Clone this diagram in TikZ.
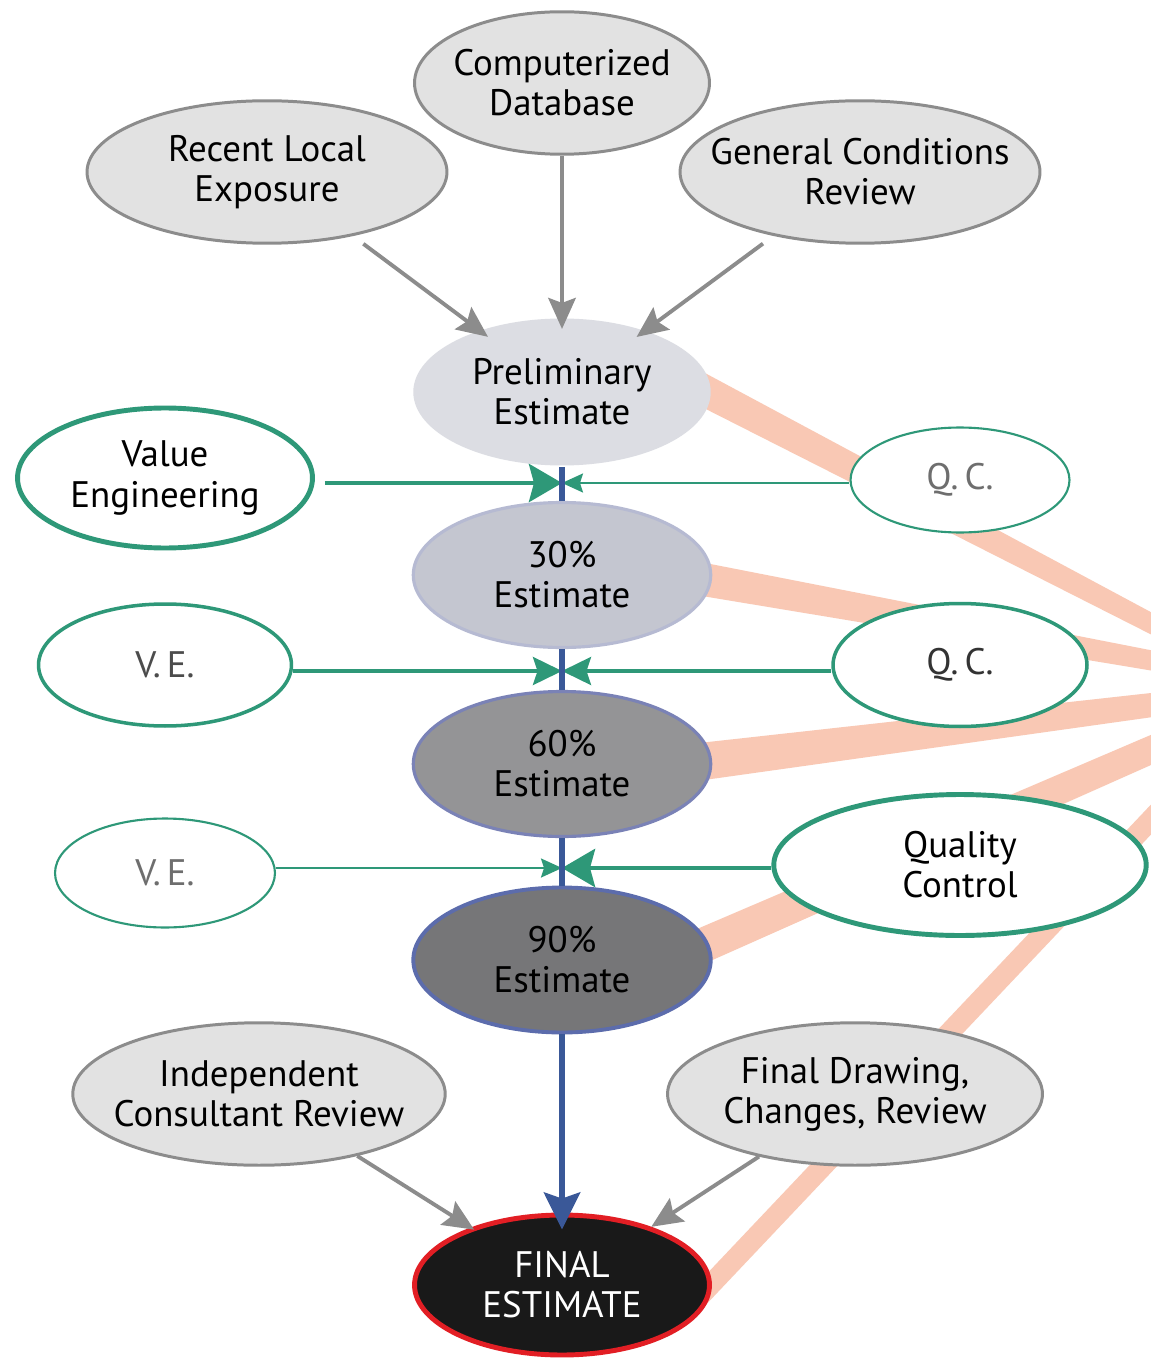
\documentclass[tikz,border=0pt]{standalone}
\usepackage{fontspec}
\setmainfont{PT Sans}
\usepackage{tikz}
\usetikzlibrary{positioning,shapes,arrows.meta,backgrounds}
\definecolor{gfill}{RGB}{226,226,226}
\definecolor{gedge}{RGB}{140,140,140}
\definecolor{tealc}{RGB}{46,152,120}
\definecolor{bluec}{RGB}{58,88,152}
\definecolor{bandc}{RGB}{249,200,180}
\definecolor{redc}{RGB}{226,30,36}
\definecolor{pfill}{RGB}{220,221,227}
\definecolor{f30}{RGB}{196,198,208}
\definecolor{e30}{RGB}{182,186,210}
\definecolor{f60}{RGB}{148,148,150}
\definecolor{e60}{RGB}{122,130,182}
\definecolor{f90}{RGB}{118,118,120}
\definecolor{e90}{RGB}{92,108,172}
\definecolor{gtext}{RGB}{110,110,110}

\begin{document}
\begin{tikzpicture}[x=0.02cm,y=-0.02cm,
  lbl/.style={align=center,font=\fontsize{21}{22.8}\selectfont},
  gray ell/.style={ellipse,draw=gedge,fill=gfill,line width=1.7pt,minimum width=7.2cm,minimum height=2.85cm},
  est ell/.style={ellipse,minimum width=5.95cm,minimum height=2.9cm,line width=1.8pt},
  ve ell/.style={ellipse,draw=tealc,fill=white},
  gray arrow/.style={draw=gedge,line width=2.2pt,-{Stealth[length=0.62cm,width=0.55cm,inset=0.1cm]}},
  blue line/.style={draw=bluec,line width=3.6pt},
  teal thick/.style={draw=tealc,line width=2.8pt},
  teal mid/.style={draw=tealc,line width=2pt},
  teal thin/.style={draw=tealc,line width=1.2pt},
  big tip/.style={-{Stealth[length=0.66cm,width=0.76cm,inset=0.1cm]}},
  mid tip/.style={-{Stealth[length=0.58cm,width=0.56cm,inset=0.09cm]}},
  small tip/.style={-{Stealth[length=0.42cm,width=0.38cm,inset=0.06cm]}},
  band/.style={fill=bandc}]
\tikzstyle{every node}+=[inner sep=0pt]
\useasboundingbox (0,0) rectangle (1150,1361);
\node[gray ell,minimum width=5.9cm,label={[lbl]center:{Computerized\\Database}}] (cdb) at (562,83) {};
\node[gray ell,label={[lbl]center:{Recent Local\\Exposure}}] (rle) at (267,172) {};
\node[gray ell,label={[lbl]center:{General Conditions\\Review}}] (gcr) at (860,172) {};
\node[est ell,fill=pfill,minimum height=2.94cm,label={[lbl]center:{Preliminary\\Estimate}}] (prelim) at (562,392) {};
\node[ve ell,line width=2.8pt,minimum width=5.9cm,minimum height=2.8cm,label={[lbl]center:{Value\\Engineering}}] (ve) at (165,478) {};
\node[ve ell,line width=1.2pt,minimum width=4.38cm,minimum height=2.1cm,label={[lbl,text=gtext]center:{Q.\,C.}}] (qc1) at (960,480) {};
\node[est ell,fill=f30,draw=e30,label={[lbl]center:{30\%\\Estimate}}] (pc30) at (562,575) {};
\node[ve ell,line width=2pt,minimum width=5.06cm,minimum height=2.44cm,label={[lbl,text=black!70]center:{V.\,E.}}] (ve1) at (165,665) {};
\node[ve ell,line width=2pt,minimum width=5.08cm,minimum height=2.46cm,label={[lbl,text=black!80]center:{Q.\,C.}}] (qc2) at (960,665) {};
\node[est ell,fill=f60,draw=e60,label={[lbl]center:{60\%\\Estimate}}] (pc60) at (562,764) {};
\node[ve ell,line width=1.2pt,minimum width=4.4cm,minimum height=2.18cm,label={[lbl,text=gtext]center:{V.\,E.}}] (ve2) at (165,873) {};
\node[ve ell,line width=2.8pt,minimum width=7.45cm,minimum height=2.82cm,label={[lbl]center:{Quality\\Control}}] (qcl) at (960,865) {};
\node[est ell,fill=f90,draw=e90,line width=2.2pt,label={[lbl]center:{90\%\\Estimate}}] (pc90) at (562,960) {};
\node[gray ell,minimum width=7.45cm,label={[lbl]center:{Independent\\Consultant Review}}] (icr) at (259,1094) {};
\node[gray ell,minimum width=7.5cm,label={[lbl]center:{Final Drawing,\\Changes, Review}}] (fdr) at (855,1094) {};
\node[est ell,fill=black!90,draw=redc,line width=2.8pt,minimum width=5.9cm,minimum height=2.8cm,label={[lbl,text=white]center:{FINAL\\ESTIMATE}}] (final) at (562,1285) {};
\begin{pgfonlayer}{background}
\fill[white] (0,0) rectangle (1150,1361);
\fill[band] (690,365) -- (1160,617) -- (1160,639) -- (690,401) -- cycle;
\fill[band] (690,560) -- (1160,652) -- (1160,672) -- (690,594) -- cycle;
\fill[band] (690,744) -- (1160,692) -- (1160,716) -- (690,782) -- cycle;
\fill[band] (690,932) -- (1160,731) -- (1160,761) -- (690,970) -- cycle;
\fill[band] (700,1281) -- (1160,795) -- (1160,825) -- (700,1311) -- cycle;
\end{pgfonlayer}
\draw[gray arrow,shorten <=0.26cm,shorten >=-0.24cm] (rle) -- (prelim);
\draw[gray arrow,shorten >=-0.24cm] (cdb) -- (prelim);
\draw[gray arrow,shorten <=0.26cm,shorten >=-0.24cm] (gcr) -- (prelim);
\draw[gray arrow,shorten >=-0.08cm] (icr) -- (final);
\draw[gray arrow] (fdr) -- (final);
\coordinate (r1) at (562,483);
\coordinate (r2) at (562,671);
\coordinate (r3) at (562,868);
\draw[teal thick,big tip,shorten <=0.2cm] (ve.east |- r1) -- (r1);
\draw[teal thin,small tip] (qc1.west |- r1) -- (r1);
\draw[teal mid,mid tip] (ve1.east |- r2) -- (r2);
\draw[teal mid,mid tip] (qc2.west |- r2) -- (r2);
\draw[teal thin,small tip] (ve2.east |- r3) -- (r3);
\draw[teal thick,big tip] (qcl.west |- r3) -- (r3);
\draw[blue line] (prelim) -- (pc30);
\draw[blue line] (pc30) -- (pc60);
\draw[blue line] (pc60) -- (pc90);
\draw[blue line,-{Stealth[length=0.74cm,width=0.72cm,inset=0.12cm]},shorten >=-0.34cm] (pc90) -- (final);
\end{tikzpicture}
\end{document}
